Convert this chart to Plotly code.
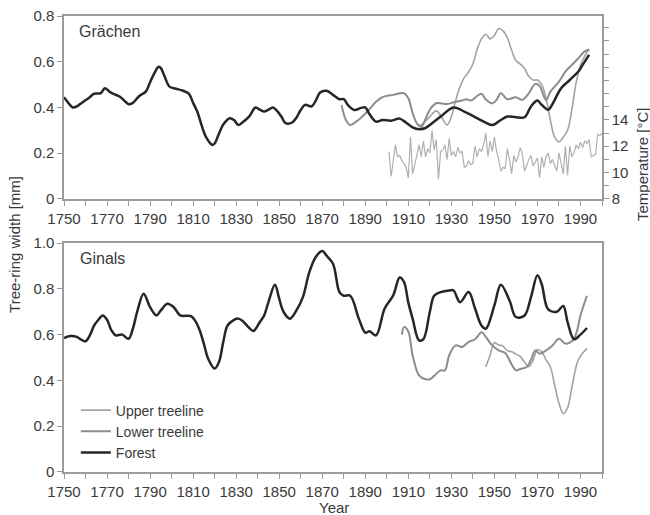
import plotly.graph_objects as go

# ---------------- data ----------------
# Grächen (top panel)
gr_forest_year = [1750, 1752, 1754, 1756, 1759, 1762, 1764, 1767, 1769, 1771, 1773, 1776, 1778, 1780, 1782,
                  1785, 1788, 1790, 1792, 1794, 1795, 1797, 1799, 1802, 1805, 1808, 1810, 1812, 1814, 1816,
                  1819, 1820, 1822, 1824, 1827, 1829, 1831, 1833, 1836, 1839, 1841, 1843, 1845, 1847, 1849,
                  1851, 1853, 1856, 1858, 1860, 1862, 1865, 1867, 1869, 1872, 1875, 1878, 1880, 1882, 1885,
                  1888, 1890, 1892, 1895, 1898, 1902, 1906, 1909, 1912, 1915, 1918, 1920, 1925, 1931, 1936,
                  1940, 1945, 1949, 1953, 1956, 1960, 1964, 1967, 1970, 1972, 1975, 1977, 1981, 1985, 1989,
                  1991, 1994]
gr_forest_val = [0.445, 0.42, 0.40, 0.405, 0.425, 0.445, 0.46, 0.462, 0.484, 0.47, 0.459, 0.447, 0.43, 0.414, 0.42,
                 0.45, 0.469, 0.51, 0.55, 0.578, 0.572, 0.53, 0.491, 0.482, 0.474, 0.46, 0.42, 0.38, 0.32, 0.27,
                 0.236, 0.242, 0.285, 0.325, 0.353, 0.345, 0.323, 0.335, 0.36, 0.40, 0.39, 0.382, 0.39, 0.40, 0.385,
                 0.36, 0.331, 0.334, 0.355, 0.389, 0.411, 0.404, 0.43, 0.465, 0.473, 0.455, 0.436, 0.436, 0.41, 0.389,
                 0.398, 0.40, 0.37, 0.338, 0.345, 0.342, 0.351, 0.333, 0.313, 0.305, 0.31, 0.323, 0.36, 0.40, 0.382,
                 0.363, 0.338, 0.323, 0.345, 0.36, 0.357, 0.357, 0.404, 0.43, 0.411, 0.39, 0.415, 0.484, 0.52, 0.557,
                 0.586, 0.63]

gr_lower_year = [1879, 1881, 1883, 1886, 1888, 1891, 1895, 1898, 1903, 1908, 1910, 1912, 1914, 1916, 1918,
                 1920, 1923, 1928, 1932, 1935, 1937, 1939, 1942, 1944, 1946, 1949, 1951, 1953, 1956, 1960,
                 1963, 1966, 1969, 1971, 1974, 1976, 1980, 1983, 1986, 1989, 1992, 1994]
gr_lower_val = [0.41, 0.345, 0.323, 0.34, 0.355, 0.382, 0.425, 0.445, 0.455, 0.462, 0.44, 0.375, 0.33, 0.315, 0.35,
                0.39, 0.418, 0.415, 0.425, 0.43, 0.436, 0.43, 0.45, 0.46, 0.435, 0.418, 0.433, 0.462, 0.436, 0.445,
                0.433, 0.462, 0.503, 0.494, 0.433, 0.469, 0.513, 0.557, 0.586, 0.615, 0.645, 0.652]

gr_upper_year = [1915, 1917, 1920, 1923, 1925, 1928, 1930, 1932, 1934, 1936, 1938, 1940, 1942, 1944, 1946,
                 1948, 1950, 1952, 1954, 1956, 1958, 1960, 1962, 1964, 1966, 1968, 1970, 1972, 1974, 1976,
                 1978, 1980, 1982, 1984, 1986, 1988, 1990, 1992, 1994]
gr_upper_val = [0.32, 0.33, 0.36, 0.385, 0.365, 0.323, 0.36, 0.43, 0.49, 0.53, 0.555, 0.59, 0.655, 0.70, 0.72,
                0.70, 0.715, 0.745, 0.735, 0.705, 0.65, 0.605, 0.59, 0.57, 0.535, 0.52, 0.52, 0.50, 0.44, 0.345,
                0.27, 0.25, 0.27, 0.30, 0.39, 0.51, 0.585, 0.625, 0.655]

temp_year = list(range(1901, 2001))
temp_val = [11.6, 9.7, 10.9, 12.1, 11.2, 11.3, 10.9, 10.7, 10.4, 9.6,
            12.7, 9.9, 10.6, 11.4, 12.1, 11.2, 12.4, 11.2, 11.8, 11.5,
            13.2, 11.7, 12.5, 9.5, 11.6, 11.7, 12.1, 11.0, 12.6, 11.3,
            11.6, 11.2, 11.9, 11.5, 11.6, 10.4, 10.5, 10.9, 10.6, 10.7,
            12.0, 11.2, 11.8, 11.6, 12.1, 13.0, 11.2, 12.4, 11.6, 12.7,
            11.6, 11.0, 10.1, 10.4, 10.3, 11.8, 11.0, 9.9, 11.3, 10.8,
            11.2, 11.9, 11.4, 10.1, 10.6, 11.0, 11.3, 10.5, 10.8, 11.1,
            9.6, 11.2, 10.4, 11.2, 11.5, 10.7, 11.0, 10.5, 10.1, 11.5,
            10.8, 9.9, 12.0, 9.8, 12.0, 11.2, 11.5, 12.1, 11.8, 12.3,
            11.9, 12.4, 12.2, 12.5, 11.2, 11.3, 11.4, 12.9, 12.8, 13.0]

# Ginals (bottom panel)
gi_forest_year = [1750, 1753, 1756, 1758, 1760, 1762, 1764, 1766, 1768, 1770, 1772, 1774, 1777, 1780, 1782,
                  1784, 1787, 1790, 1793, 1795, 1798, 1801, 1804, 1809, 1811, 1813, 1815, 1817, 1820, 1822,
                  1824, 1826, 1829, 1831, 1833, 1836, 1838, 1841, 1843, 1845, 1848, 1850, 1852, 1855, 1858,
                  1861, 1864, 1867, 1870, 1872, 1875, 1878, 1880, 1883, 1887, 1890, 1892, 1895, 1899, 1903,
                  1906, 1908, 1910, 1912, 1915, 1917, 1920, 1922, 1925, 1929, 1931, 1934, 1938, 1941, 1944,
                  1946, 1950, 1953, 1957, 1960, 1964, 1967, 1970, 1972, 1975, 1979, 1982, 1984, 1987, 1990,
                  1993]
gi_forest_val = [0.585, 0.594, 0.59, 0.578, 0.571, 0.597, 0.64, 0.665, 0.684, 0.665, 0.62, 0.597, 0.60, 0.582, 0.626,
                 0.70, 0.779, 0.72, 0.684, 0.706, 0.735, 0.72, 0.684, 0.681, 0.66, 0.62, 0.56, 0.495, 0.452, 0.48,
                 0.568, 0.64, 0.665, 0.67, 0.66, 0.63, 0.616, 0.655, 0.684, 0.742, 0.818, 0.757, 0.70, 0.67, 0.706,
                 0.764, 0.873, 0.939, 0.965, 0.945, 0.91, 0.786, 0.77, 0.77, 0.67, 0.609, 0.615, 0.597, 0.714, 0.772,
                 0.85, 0.83, 0.74, 0.67, 0.575, 0.58, 0.70, 0.77, 0.786, 0.793, 0.793, 0.742, 0.786, 0.714, 0.64,
                 0.626, 0.728, 0.818, 0.75, 0.677, 0.684, 0.764, 0.859, 0.82, 0.71, 0.70, 0.725, 0.655, 0.58, 0.60,
                 0.629]

gi_lower_year = [1907, 1908, 1910, 1912, 1915, 1918, 1920, 1922, 1925, 1927, 1929, 1932, 1935, 1938, 1941,
                 1944, 1946, 1949, 1952, 1955, 1958, 1960, 1962, 1965, 1967, 1969, 1971, 1974, 1977, 1980,
                 1983, 1986, 1988, 1990, 1993]
gi_lower_val = [0.60, 0.633, 0.614, 0.51, 0.422, 0.405, 0.405, 0.42, 0.444, 0.444, 0.51, 0.553, 0.546, 0.568, 0.58,
                0.611, 0.59, 0.553, 0.531, 0.52, 0.47, 0.444, 0.45, 0.459, 0.49, 0.531, 0.517, 0.531, 0.553, 0.582,
                0.561, 0.571, 0.604, 0.684, 0.77]

gi_upper_year = [1946, 1948, 1950, 1952, 1954, 1956, 1958, 1960, 1962, 1964, 1966, 1968, 1970, 1972, 1974,
                 1976, 1978, 1980, 1982, 1984, 1986, 1989, 1993]
gi_upper_val = [0.46, 0.51, 0.565, 0.555, 0.55, 0.53, 0.525, 0.515, 0.505, 0.48, 0.46, 0.49, 0.535, 0.525, 0.49,
                0.46, 0.38, 0.30, 0.255, 0.28, 0.37, 0.49, 0.54]

x_tick_vals = list(range(1750, 2001, 10))
x_tick_text = [str(v) if (v - 1750) % 20 == 0 and v < 2000 else "" for v in x_tick_vals]
top_y_vals = [0, 0.2, 0.4, 0.6, 0.8]
top_y_text = ["0", "0.2", "0.4", "0.6", "0.8"]
bot_y_vals = [0, 0.2, 0.4, 0.6, 0.8, 1.0]
bot_y_text = ["0", "0.2", "0.4", "0.6", "0.8", "1.0"]
temp_tick_vals = list(range(8, 22))
temp_tick_text = [str(v) if v in (8, 10, 12, 14) else "" for v in temp_tick_vals]

# ---------------- style ----------------
C_FOREST = "#262626"
C_LOWER = "#8c8c8c"
C_UPPER = "#a3a3a3"
C_TEMP = "#b0b0b0"
AX = "#9a9a9a"
TXT = "#3a3a3a"
FONT = "Liberation Sans, Arial, sans-serif"

fig = go.Figure()

# top panel
fig.add_trace(go.Scatter(x=temp_year, y=temp_val, mode="lines", line=dict(color=C_TEMP, width=1.2),
                         xaxis="x2", yaxis="y3", showlegend=False))
fig.add_trace(go.Scatter(x=gr_upper_year, y=gr_upper_val, mode="lines", line=dict(color=C_UPPER, width=1.6, shape="spline"),
                         xaxis="x2", yaxis="y2", showlegend=False))
fig.add_trace(go.Scatter(x=gr_lower_year, y=gr_lower_val, mode="lines", line=dict(color=C_LOWER, width=2, shape="spline"),
                         xaxis="x2", yaxis="y2", showlegend=False))
fig.add_trace(go.Scatter(x=gr_forest_year, y=gr_forest_val, mode="lines", line=dict(color=C_FOREST, width=2.5, shape="spline"),
                         xaxis="x2", yaxis="y2", showlegend=False))

# bottom panel
fig.add_trace(go.Scatter(x=gi_upper_year, y=gi_upper_val, mode="lines", name="Upper treeline",
                         line=dict(color=C_UPPER, width=1.6, shape="spline"), xaxis="x", yaxis="y"))
fig.add_trace(go.Scatter(x=gi_lower_year, y=gi_lower_val, mode="lines", name="Lower treeline",
                         line=dict(color=C_LOWER, width=2, shape="spline"), xaxis="x", yaxis="y"))
fig.add_trace(go.Scatter(x=gi_forest_year, y=gi_forest_val, mode="lines", name="Forest",
                         line=dict(color=C_FOREST, width=2.5, shape="spline"), xaxis="x", yaxis="y"))

xcommon = dict(range=[1750, 2000], tickmode="array", tickvals=x_tick_vals, ticktext=x_tick_text,
               ticks="outside", ticklen=5, tickcolor=AX, tickwidth=1.2, showline=True, linecolor=AX, linewidth=1.5,
               mirror=True, showgrid=False, zeroline=False, automargin=False,
               tickfont=dict(size=15, color=TXT, family=FONT))
ycommon = dict(ticks="outside", ticklen=5, tickcolor=AX, tickwidth=1.2, showline=True, linecolor=AX, linewidth=1.5,
               mirror=True, showgrid=False, zeroline=False, automargin=False,
               tickfont=dict(size=15, color=TXT, family=FONT))

fig.update_layout(
    width=650, height=515,
    margin=dict(l=64, r=48, t=16, b=43),
    paper_bgcolor="white", plot_bgcolor="white",
    font=dict(family=FONT, color=TXT),
    xaxis=dict(**xcommon, anchor="y", domain=[0, 1]),
    yaxis=dict(**ycommon, range=[0, 1.0], tickmode="array", tickvals=bot_y_vals, ticktext=bot_y_text,
               domain=[0, 0.502], anchor="x"),
    xaxis2=dict(**xcommon, anchor="y2", domain=[0, 1]),
    yaxis2=dict(**ycommon, range=[0, 0.8], tickmode="array", tickvals=top_y_vals, ticktext=top_y_text,
                domain=[0.599, 1], anchor="x2"),
    yaxis3=dict(range=[8, 21.9], tickmode="array", tickvals=temp_tick_vals, ticktext=temp_tick_text,
                overlaying="y2", side="right", anchor="x2", ticks="outside", ticklen=5, tickcolor=AX,
                tickwidth=1.2, showline=True, linecolor=AX, linewidth=1.5, showgrid=False, zeroline=False,
                automargin=False, tickfont=dict(size=15, color=TXT, family=FONT)),
    legend=dict(x=0.022, y=0.17, xanchor="left", yanchor="top", bgcolor="rgba(0,0,0,0)",
                font=dict(size=14, color=TXT, family=FONT), tracegroupgap=0, itemwidth=30),
    showlegend=True,
    annotations=[
        dict(text="Grächen", xref="paper", yref="paper", x=0.024, y=0.967, xanchor="left", yanchor="middle",
             showarrow=False, font=dict(size=16, color=TXT, family=FONT)),
        dict(text="Ginals", xref="paper", yref="paper", x=0.026, y=0.469, xanchor="left", yanchor="middle",
             showarrow=False, font=dict(size=16, color=TXT, family=FONT)),
        dict(text="Tree-ring width [mm]", xref="paper", yref="paper", x=-0.091, y=0.498, textangle=-90,
             xanchor="center", yanchor="middle", showarrow=False, font=dict(size=15, color=TXT, family=FONT)),
        dict(text="Temperature [°C]", xref="paper", yref="paper", x=1.074, y=0.675, textangle=-90,
             xanchor="center", yanchor="middle", showarrow=False, font=dict(size=15, color=TXT, family=FONT)),
        dict(text="Year", xref="paper", yref="paper", x=0.502, y=-0.077, xanchor="center", yanchor="middle",
             showarrow=False, font=dict(size=15, color=TXT, family=FONT)),
    ],
)

fig.write_html("out.html", config={"displayModeBar": False},
               post_script="document.body.style.margin='0';document.body.style.overflow='hidden';")
